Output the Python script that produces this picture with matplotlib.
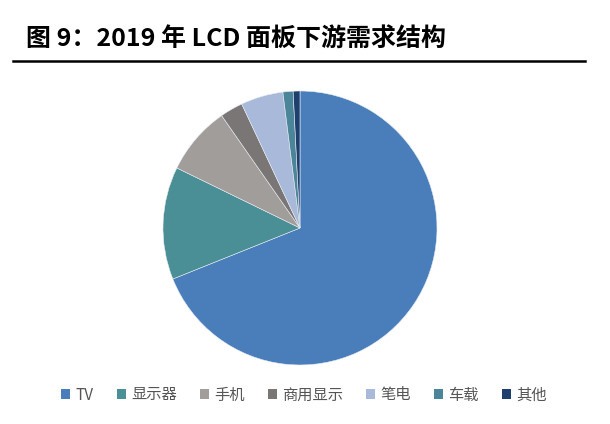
import matplotlib
matplotlib.use("Agg")
import matplotlib.pyplot as plt
from matplotlib.patches import Patch
from matplotlib.lines import Line2D

plt.rcParams['font.family'] = ['Noto Sans CJK SC', 'DejaVu Sans']

categories = ['TV', '显示器', '手机', '商用显示', '笔电', '车载', '其他']
values = [69.0, 13.3, 8.1, 2.7, 5.0, 1.2, 0.8]
colors = ['#4a7ebb', '#4a8e96', '#a19d9b', '#7a7675', '#a9b9d9', '#4b8599', '#1f3f6e']

fig = plt.figure(figsize=(6.10, 4.24), dpi=100)
fig.patch.set_facecolor('white')

# Title
fig.text(26/610, 1 - 39/424, '图 9：2019 年 LCD 面板下游需求结构', fontsize=18,
         fontweight='bold', va='center', ha='left', color='black')
fig.add_artist(Line2D([13/610, 585/610], [1 - 61/424, 1 - 61/424], color='black', lw=1.8))

# Pie: center (300,228), radius 137
r = 137
cx, cy = 300, 228
ax = fig.add_axes([(cx - r)/610, 1 - (cy + r)/424, 2*r/610, 2*r/424])
ax.pie(values, colors=colors, startangle=90, counterclock=False,
       wedgeprops=dict(edgecolor='#e8ecf2', linewidth=0.4))
ax.set_aspect('auto')
ax.set_xlim(-1, 1)
ax.set_ylim(-1, 1)

handles = [Patch(facecolor=c, edgecolor='none') for c in colors]
fig.legend(handles, categories, loc='center', bbox_to_anchor=(304/610, 1 - 395/424),
           ncol=len(categories), frameon=False, fontsize=11, handlelength=0.6,
           handleheight=0.6, handletextpad=0.35, columnspacing=1.5, labelcolor='#555555')

fig.savefig('out.png', dpi=100, facecolor='white')
